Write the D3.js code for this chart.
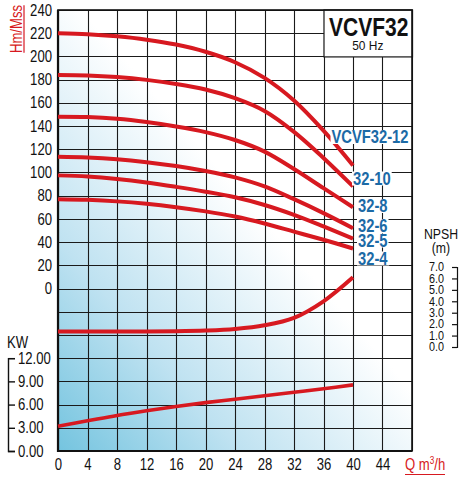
<!DOCTYPE html>
<html><head><meta charset="utf-8">
<script src="https://cdn.jsdelivr.net/npm/d3@7/dist/d3.min.js"></script>
<style>
html,body{margin:0;padding:0;background:#fff;}
svg{display:block;}
text{font-family:"Liberation Sans",Arial,sans-serif;}
</style></head>
<body>
<script>
// ---- data ----
const flows = [0, 4, 8, 12, 16, 20, 24, 28, 32, 36, 40];
const head_32_12 = [220, 219.2, 217.3, 214.4, 210.2, 204, 195, 181.5, 162, 136, 106];
const head_32_10 = [184, 183.6, 182.2, 179.8, 176.3, 171.5, 164, 153, 135, 112.5, 88];
const head_32_8  = [148, 147.7, 146.2, 143.4, 139.6, 134.8, 128, 118, 103, 86.5, 70];
const head_32_6  = [113.5, 112.9, 111.4, 108.9, 105.6, 101.3, 95.8, 88, 77, 65, 52];
const head_32_5  = [97.5, 96.5, 94.4, 91.4, 87.6, 83.4, 78.6, 72, 63.5, 53.5, 43];
const head_32_4  = [77, 76.4, 75.1, 73, 70.1, 66.5, 62, 56, 49, 42, 34.5];
const npsh = [1.35, 1.35, 1.35, 1.36, 1.38, 1.44, 1.58, 1.9, 2.55, 4.0, 6.1];
const power = [3.2, 3.9, 4.6, 5.2, 5.75, 6.25, 6.7, 7.15, 7.6, 8.05, 8.55];
const seriesNames = ["VCVF32-12", "32-10", "32-8", "32-6", "32-5", "32-4"];
const headSeries = [head_32_12, head_32_10, head_32_8, head_32_6, head_32_5, head_32_4];
const xTicks = [0, 4, 8, 12, 16, 20, 24, 28, 32, 36, 40, 44];
const headTicks = [0, 20, 40, 60, 80, 100, 120, 140, 160, 180, 200, 220, 240];
const kwTicks = [0, 3, 6, 9, 12];
const npshTicks = [0, 1, 2, 3, 4, 5, 6, 7];
const title = "VCVF32";
const subtitle = "50 Hz";

// ---- layout ----
const W = 462, H = 479;
const L = 58, R = 412, T = 10, B = 451;
const RED = "#d71920", BLUE = "#1c6aa6";
const NARROW = 0.82;

const svg = d3.select("body").append("svg").attr("width", W).attr("height", H);

// horizontally condense a text around its anchor x
function condense(sel, k) {
  sel.each(function () {
    const t = d3.select(this);
    const tx = +t.attr("x") || 0;
    t.attr("transform", `translate(${tx},0) scale(${k},1) translate(${-tx},0)`);
  });
}

const x = d3.scaleLinear().domain([0, 48]).range([L, R]);
const yHead = d3.scaleLinear().domain([-140, 240]).range([B, T]);
const yKw = d3.scaleLinear().domain([0, 57]).range([B, T]);
const yNpsh = d3.scaleLinear().domain([0, 7]).range([347, 267]);

// background gradient
const defs = svg.append("defs");
const grad = defs.append("linearGradient").attr("id", "bg")
  .attr("gradientUnits", "userSpaceOnUse")
  .attr("x1", L).attr("y1", B).attr("x2", 290).attr("y2", 250);
grad.append("stop").attr("offset", 0).attr("stop-color", "#74c4df");
grad.append("stop").attr("offset", 0.45).attr("stop-color", "#bfe2f1");
grad.append("stop").attr("offset", 1).attr("stop-color", "#ffffff");
svg.append("rect").attr("x", L).attr("y", T).attr("width", R - L).attr("height", B - T).attr("fill", "url(#bg)");

// grid
const grid = svg.append("g").attr("stroke", "#1a1a1a").attr("stroke-width", 1.1);
d3.range(0, 49, 4).forEach(q => {
  grid.append("line").attr("x1", Math.round(x(q)) + 0.5).attr("x2", Math.round(x(q)) + 0.5)
    .attr("y1", T).attr("y2", B);
});
d3.range(-140, 241, 20).forEach(h => {
  grid.append("line").attr("x1", L).attr("x2", R)
    .attr("y1", Math.round(yHead(h)) + 0.5).attr("y2", Math.round(yHead(h)) + 0.5);
});

// title box
svg.append("rect").attr("x", x(36) + 0.5).attr("y", T).attr("width", x(48) - x(36)).attr("height", yHead(200) - T + 0.5)
  .attr("fill", "#fff").attr("stroke", "#1a1a1a").attr("stroke-width", 1.2);
const tt = svg.append("text").attr("x", (x(36) + x(48)) / 2 + 1).attr("y", 36).attr("text-anchor", "middle")
  .attr("font-size", 25).attr("font-weight", "bold").attr("fill", "#111").text(title);
condense(tt, 0.84);
const st = svg.append("text").attr("x", (x(36) + x(48)) / 2).attr("y", 50).attr("text-anchor", "middle")
  .attr("font-size", 13).attr("fill", "#111").text(subtitle);
condense(st, 0.92);

// frame
svg.append("rect").attr("x", L).attr("y", T).attr("width", R - L).attr("height", B - T)
  .attr("fill", "none").attr("stroke", "#111").attr("stroke-width", 1.6);
svg.append("line").attr("x1", L).attr("x2", L).attr("y1", T).attr("y2", B + 1).attr("stroke", "#111").attr("stroke-width", 2.2);
svg.append("line").attr("x1", L).attr("x2", R).attr("y1", B).attr("y2", B).attr("stroke", "#111").attr("stroke-width", 2.2);

// curves
const curve = d3.curveCatmullRom.alpha(0.5);
const lineHead = d3.line().x((d, i) => x(flows[i])).y(d => yHead(d)).curve(curve);
headSeries.forEach(s => {
  svg.append("path").attr("d", lineHead(s)).attr("fill", "none").attr("stroke", RED)
    .attr("stroke-width", 4).attr("stroke-linecap", "butt");
});
const lineNpsh = d3.line().x((d, i) => x(flows[i])).y(d => yNpsh(d)).curve(curve);
svg.append("path").attr("d", lineNpsh(npsh)).attr("fill", "none").attr("stroke", RED).attr("stroke-width", 4);
const lineKw = d3.line().x((d, i) => x(flows[i])).y(d => yKw(d)).curve(curve);
svg.append("path").attr("d", lineKw(power)).attr("fill", "none").attr("stroke", RED).attr("stroke-width", 3.6);

// series labels
const labelPos = [[331.5, 143.5], [353, 185], [358, 212.5], [358, 232.5], [358, 247], [358, 265]];
const lblBg = svg.append("g");
const lblTx = svg.append("g");
seriesNames.forEach((name, i) => {
  const t = lblTx.append("text").attr("x", labelPos[i][0]).attr("y", labelPos[i][1])
    .attr("font-size", 18).attr("font-weight", "bold").attr("fill", BLUE).text(name);
  condense(t, NARROW);
  const bb = t.node().getBBox();
  lblBg.append("rect").attr("x", labelPos[i][0] - 1).attr("y", labelPos[i][1] - 13.5)
    .attr("width", bb.width * NARROW + 2).attr("height", 14).attr("fill", "#fff");
});

// axes
const axX = svg.append("g").attr("transform", `translate(0,${B})`)
  .call(d3.axisBottom(x).tickValues(xTicks).tickSize(0).tickPadding(8).tickFormat(d3.format("d")));
axX.select(".domain").remove();
axX.selectAll("text").attr("font-size", 16).attr("fill", "#111").attr("font-family", null);
condense(axX.selectAll("text"), NARROW);

const axY = svg.append("g").attr("transform", `translate(${L},0)`)
  .call(d3.axisLeft(yHead).tickValues(headTicks).tickSize(0).tickPadding(6).tickFormat(d3.format("d")));
axY.select(".domain").remove();
axY.selectAll("text").attr("font-size", 16).attr("fill", "#111").attr("font-family", null);
condense(axY.selectAll("text"), NARROW);

const kwAxisScale = yKw.copy().domain([0, 12]).range([yKw(0), yKw(12)]);
const axK = svg.append("g").attr("transform", `translate(8,0)`)
  .call(d3.axisRight(kwAxisScale).tickValues(kwTicks).tickSize(7).tickPadding(3).tickFormat(d3.format(".2f")));
axK.selectAll("path,line").attr("stroke", "#111").attr("stroke-width", 1.4);
axK.selectAll("text").attr("font-size", 16).attr("fill", "#111").attr("font-family", null);
condense(axK.selectAll("text"), NARROW);

const axN = svg.append("g").attr("transform", `translate(457,0)`)
  .call(d3.axisLeft(yNpsh).tickValues(npshTicks).tickSize(5).tickPadding(8).tickFormat(d3.format(".1f")));
axN.selectAll("path,line").attr("stroke", "#111").attr("stroke-width", 1.2);
axN.selectAll("text").attr("font-size", 12).attr("fill", "#111").attr("font-family", null);
condense(axN.selectAll("text"), 0.9);

// axis titles
const hg = svg.append("g").attr("transform", "translate(22,29) rotate(-90) scale(0.82,1)");
hg.append("text").attr("x", 0).attr("y", 0).attr("text-anchor", "middle").attr("font-size", 16).attr("fill", RED).text("Hm/Mss");
hg.append("line").attr("x1", -29).attr("x2", 29).attr("y1", 2).attr("y2", 2).attr("stroke", RED).attr("stroke-width", 1.2);

condense(svg.append("text").attr("x", 7).attr("y", 348).attr("font-size", 16).attr("fill", "#111").text("KW"), NARROW);
condense(svg.append("text").attr("x", 441).attr("y", 239).attr("text-anchor", "middle").attr("font-size", 15).attr("fill", "#111").text("NPSH"), NARROW);
condense(svg.append("text").attr("x", 441).attr("y", 253).attr("text-anchor", "middle").attr("font-size", 15).attr("fill", "#111").text("(m)"), NARROW);

const qt = svg.append("text").attr("x", 405).attr("y", 470.5).attr("font-size", 16).attr("fill", RED);
qt.append("tspan").text("Q m");
qt.append("tspan").attr("font-size", 10).attr("dy", -6).text("3");
qt.append("tspan").attr("dy", 6).text("/h");
condense(qt, NARROW);
svg.append("line").attr("x1", 405).attr("x2", 445).attr("y1", 474.5).attr("y2", 474.5).attr("stroke", RED).attr("stroke-width", 1.2);
</script>
</body></html>
